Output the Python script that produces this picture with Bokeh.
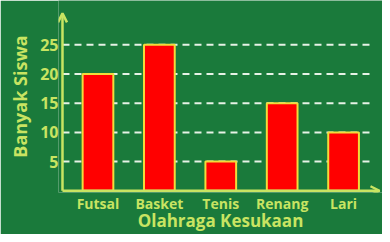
from bokeh.plotting import figure
from bokeh.models import Range1d, FixedTicker, Arrow, OpenHead, ColumnDataSource
from bokeh.embed import file_html
from bokeh.resources import INLINE

categories = ["Futsal", "Basket", "Tenis", "Renang", "Lari"]
values = [20, 25, 5, 15, 10]
y_ticks = [5, 10, 15, 20, 25]
y_title = "Banyak Siswa"
x_title = "Olahraga Kesukaan"

BG = "#1a7a3b"
YEL = "#c8e462"
AX0 = -0.578   # position of the drawn y axis line (data units)

xs = list(range(len(categories)))
src = ColumnDataSource(dict(x=xs, top=values, cat=categories))

p = figure(width=382, height=234, output_backend="svg", toolbar_location=None,
           x_range=Range1d(-0.643, 4.634), y_range=Range1d(-0.3, 32.6),
           min_border_left=58, min_border_bottom=40, min_border_top=0, min_border_right=0)
p.background_fill_color = BG
p.border_fill_color = BG
p.outline_line_color = None
p.xgrid.visible = False
p.ygrid.visible = False

# dashed grid lines
p.segment(x0=[AX0] * len(y_ticks), x1=[4.487] * len(y_ticks), y0=y_ticks, y1=y_ticks,
          line_color="#e6f2e6", line_width=2, line_dash="7 5")

p.vbar(x="x", top="top", width=0.5, bottom=0, source=src, fill_color="#ff0000",
       line_color="#f2dc3a", line_width=2)

for ax in (p.xaxis[0], p.yaxis[0]):
    ax.axis_line_color = None
    ax.major_tick_line_color = None
    ax.minor_tick_line_color = None
    ax.major_tick_out = 0
    ax.major_tick_in = 0
    ax.minor_tick_out = 0
    ax.minor_tick_in = 0
    ax.major_label_text_color = YEL
    ax.axis_label_text_color = YEL
    ax.major_label_text_font = "Open Sans"
    ax.axis_label_text_font = "Open Sans"
    ax.major_label_text_font_style = "bold"
    ax.axis_label_text_font_style = "bold"

p.yaxis.ticker = FixedTicker(ticks=y_ticks)
p.yaxis.major_label_text_font_size = "16px"
p.yaxis.major_label_standoff = 0
p.yaxis.axis_label = y_title
p.yaxis.axis_label_text_font_size = "18px"
p.yaxis.axis_label_standoff = 5

p.xaxis.ticker = FixedTicker(ticks=xs)
p.xaxis.major_label_overrides = {i: c for i, c in zip(xs, categories)}
p.xaxis.major_label_text_font_size = "14px"
p.xaxis.major_label_standoff = 1
p.xaxis.axis_label = x_title
p.xaxis.axis_label_text_font_size = "17px"
p.xaxis.axis_label_standoff = -7

# axis lines with arrow heads
p.add_layout(Arrow(end=OpenHead(size=9, line_color=YEL, line_width=2.5),
                   x_start=AX0, y_start=0, x_end=4.585, y_end=0,
                   line_color=YEL, line_width=2.5))
p.add_layout(Arrow(end=OpenHead(size=9, line_color=YEL, line_width=2.5),
                   x_start=AX0, y_start=0, x_end=AX0, y_end=30.4,
                   line_color=YEL, line_width=2.5))

open("out.html", "w").write(file_html(p, INLINE))
